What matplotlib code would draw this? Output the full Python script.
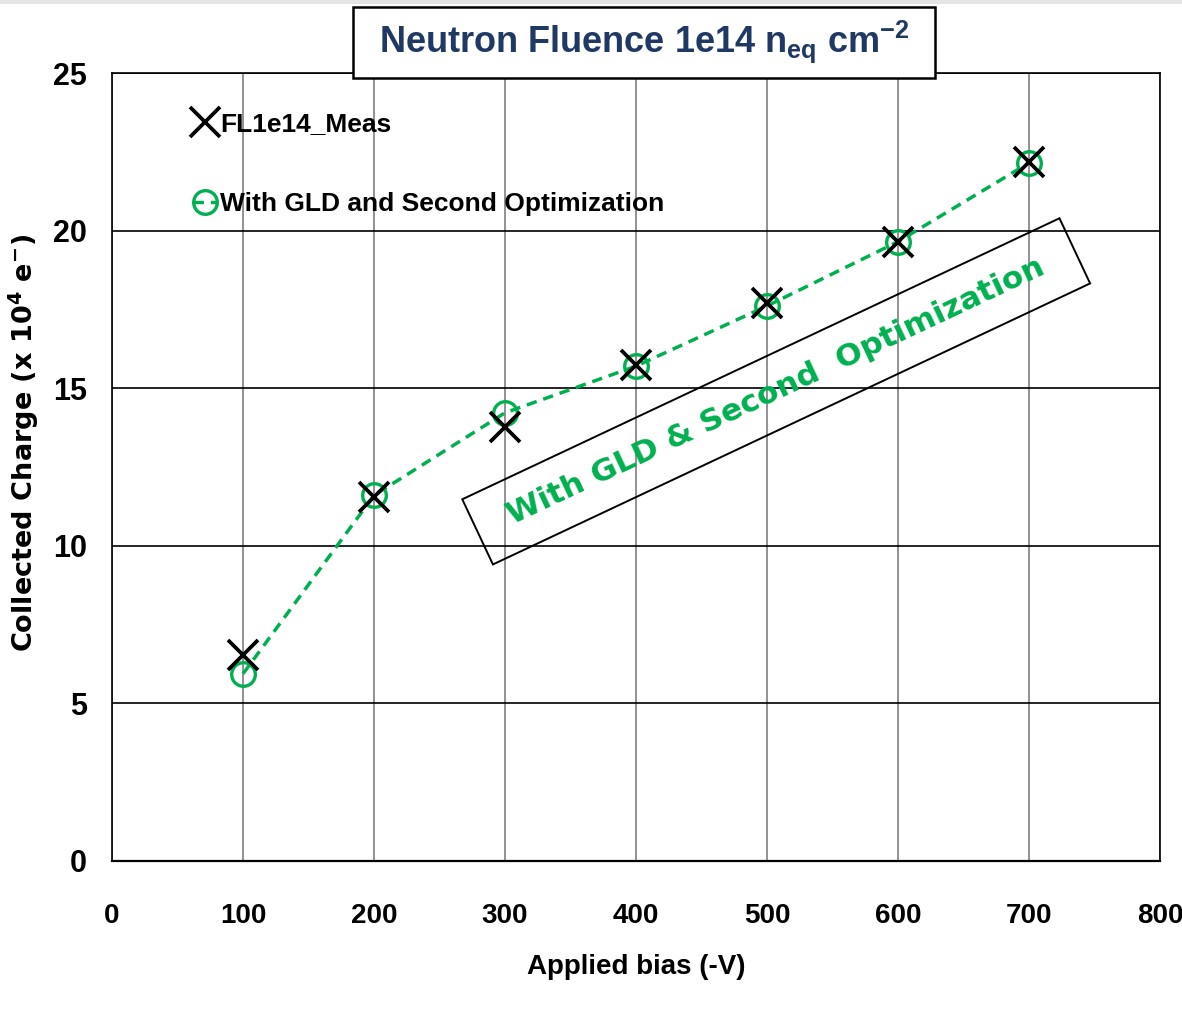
import matplotlib.pyplot as plt
from matplotlib import font_manager
from matplotlib.patches import Rectangle
from matplotlib.transforms import Affine2D, ScaledTranslation

# pick a narrow bold face if one is installed
names = set(f.name for f in font_manager.fontManager.ttflist)
NARROW = 'Liberation Sans Narrow' if 'Liberation Sans Narrow' in names else 'Liberation Sans'
WIDE = 'DejaVu Sans'

plt.rcParams['mathtext.default'] = 'regular'

bias = [100, 200, 300, 400, 500, 600, 700]
meas = [6.54, 11.56, 13.78, 15.75, 17.69, 19.65, 22.19]
sim = [5.94, 11.60, 14.22, 15.70, 17.61, 19.65, 22.15]

xticks = [0, 100, 200, 300, 400, 500, 600, 700, 800]
yticks = [0, 5, 10, 15, 20, 25]

green = '#00B050'

fig = plt.figure(figsize=(11.82, 10.17), dpi=100)
ax = fig.add_axes([0.0948, 0.1534, 0.8866, 0.7748])

ax.plot(bias, meas, linestyle='none', marker='x', markersize=22, mew=2.7,
        color='black', label='FL1e14_Meas', zorder=4)
ax.plot(bias, sim, linestyle=(0, (3, 2)), lw=2.5, color=green, marker='o',
        markersize=17, mfc='none', mec=green, mew=2.4,
        label='With GLD and Second Optimization', zorder=3)

ax.set_xlim(0, 800)
ax.set_ylim(0, 25)
ax.set_xticks(xticks)
ax.set_yticks(yticks)
ax.tick_params(length=0)
ax.tick_params(axis='y', pad=18, labelsize=22)
ax.tick_params(axis='x', pad=30, labelsize=20)
for lab in ax.get_xticklabels() + ax.get_yticklabels():
    lab.set_family(NARROW)
    lab.set_fontweight('bold')

ax.xaxis.grid(True, color='#7f7f7f', lw=1.2)
ax.yaxis.grid(True, color='black', lw=1.2)
ax.set_axisbelow(True)
for s in ax.spines.values():
    s.set_linewidth(1.2)
ax.spines['bottom'].set_linewidth(1.6)

ax.set_xlabel('Applied bias (-V)', family=NARROW, fontweight='bold',
              fontsize=20, labelpad=18)
ax.set_ylabel('Collected Charge (x 10$^{4}$ e$^{-}$)', family=WIDE,
              fontweight='bold', fontsize=19.5)
ax.yaxis.set_label_coords(-0.068, 0.53)

ax.legend(loc='upper left', bbox_to_anchor=(0.055, 0.981), frameon=False,
          handlelength=0.9, handletextpad=0.1, labelspacing=2.15,
          prop={'family': NARROW, 'weight': 'bold', 'size': 19})

# slanted label with its frame, frame sized in pixels around the text centre
cx, cy, ang = 507, 14.9, 25.2
ax.text(cx, cy, 'With GLD & Second  Optimization', rotation=ang,
        rotation_mode='anchor', ha='center', va='center', color=green,
        family=WIDE, fontweight='bold', fontsize=22.5, zorder=5)
frame_tr = Affine2D().rotate_deg(ang) + ScaledTranslation(cx, cy, ax.transData)
ax.add_patch(Rectangle((-330, -36), 660, 72, transform=frame_tr, fc='none',
                       ec='black', lw=1.4, zorder=5))

# title box
fig.patches.append(Rectangle((0.2987, 0.9233), 0.4924, 0.0698,
                             transform=fig.transFigure, fc='white',
                             ec='black', lw=1.8, zorder=5))
fig.patches.append(Rectangle((0, 0.996), 1, 0.004, transform=fig.transFigure,
                             fc='#e4e4e4', ec='none'))
fig.text(0.5448, 0.9587, 'Neutron Fluence 1e14 n$_{eq}$ cm$^{-2}$',
         ha='center', va='center', color='#1F3864', family=NARROW,
         fontweight='bold', fontsize=26, zorder=6)

fig.savefig('out.png', dpi=100)
